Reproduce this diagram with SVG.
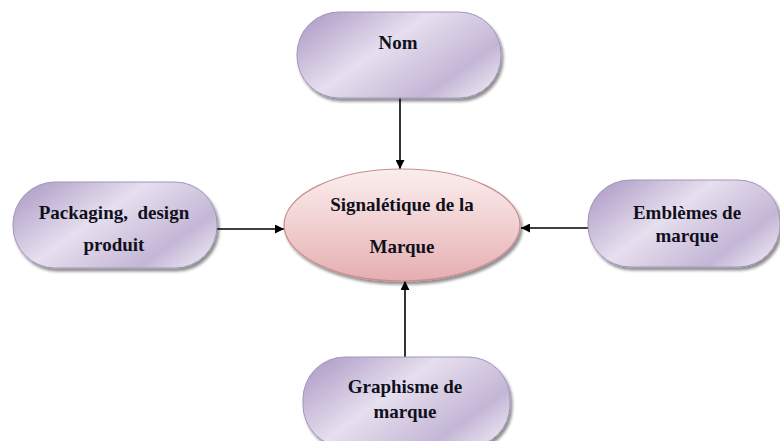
<svg xmlns="http://www.w3.org/2000/svg" width="780" height="441" viewBox="0 0 780 441">
  <defs>
    <linearGradient id="lav" x1="0" y1="0.2" x2="1" y2="0.8">
      <stop offset="0" stop-color="#b3a2ca"/>
      <stop offset="0.4" stop-color="#e6dfee"/>
      <stop offset="0.62" stop-color="#d3c8e0"/>
      <stop offset="0.8" stop-color="#c4b6d6"/>
      <stop offset="1" stop-color="#e6e0ee"/>
    </linearGradient>
    <linearGradient id="pink" x1="0" y1="0" x2="0" y2="1">
      <stop offset="0" stop-color="#fbeeee"/>
      <stop offset="0.5" stop-color="#f1d0d1"/>
      <stop offset="1" stop-color="#e5aeb1"/>
    </linearGradient>
    <filter id="shadow" x="-10%" y="-10%" width="130%" height="140%">
      <feGaussianBlur in="SourceAlpha" stdDeviation="1.5"/>
      <feOffset dx="2" dy="3" result="b"/>
      <feComponentTransfer><feFuncA type="linear" slope="0.45"/></feComponentTransfer>
      <feMerge><feMergeNode/><feMergeNode in="SourceGraphic"/></feMerge>
    </filter>
    <marker id="arrow" viewBox="0 0 10 10" refX="10" refY="5" markerWidth="9" markerHeight="9" markerUnits="userSpaceOnUse" orient="auto">
      <path d="M0,0 L10,5 L0,10 z" fill="#000"/>
    </marker>
  </defs>
  <style>
    .box { fill: url(#lav); stroke: #a393bd; stroke-width: 1; filter: url(#shadow); }
    .hub { fill: url(#pink); stroke: #c98d91; stroke-width: 1.2; filter: url(#shadow); }
    .lbl { font-family: "Liberation Serif", "Times New Roman", serif; font-weight: bold; font-size: 19px; fill: #10101c; text-anchor: middle; }
    .edge { stroke: #000; stroke-width: 1.6; fill: none; marker-end: url(#arrow); }
  </style>

  <g id="connectors">
    <line class="edge" x1="400" y1="98" x2="400" y2="169"/>
    <line class="edge" x1="217" y1="229" x2="284" y2="229"/>
    <line class="edge" x1="588" y1="228" x2="521" y2="228"/>
    <line class="edge" x1="405" y1="357" x2="405" y2="281"/>
  </g>

  <g id="node-hub">
    <ellipse class="hub" cx="402" cy="225" rx="118" ry="56"/>
    <text class="lbl" x="402" y="211">Signalétique de la</text>
    <text class="lbl" x="402" y="253">Marque</text>
  </g>

  <g id="node-nom">
    <rect class="box" x="297" y="12" width="204" height="86" rx="42"/>
    <text class="lbl" x="398" y="49">Nom</text>
  </g>

  <g id="node-packaging">
    <rect class="box" x="13" y="182" width="204" height="86" rx="42"/>
    <text class="lbl" x="114" y="219" xml:space="preserve">Packaging,  design</text>
    <text class="lbl" x="114" y="251">produit</text>
  </g>

  <g id="node-emblemes">
    <rect class="box" x="588" y="180" width="192" height="87" rx="42"/>
    <text class="lbl" x="687" y="219">Emblèmes de</text>
    <text class="lbl" x="687" y="242">marque</text>
  </g>

  <g id="node-graphisme">
    <rect class="box" x="303" y="357" width="207" height="90" rx="42"/>
    <text class="lbl" x="405" y="393">Graphisme de</text>
    <text class="lbl" x="405" y="418">marque</text>
  </g>
</svg>
